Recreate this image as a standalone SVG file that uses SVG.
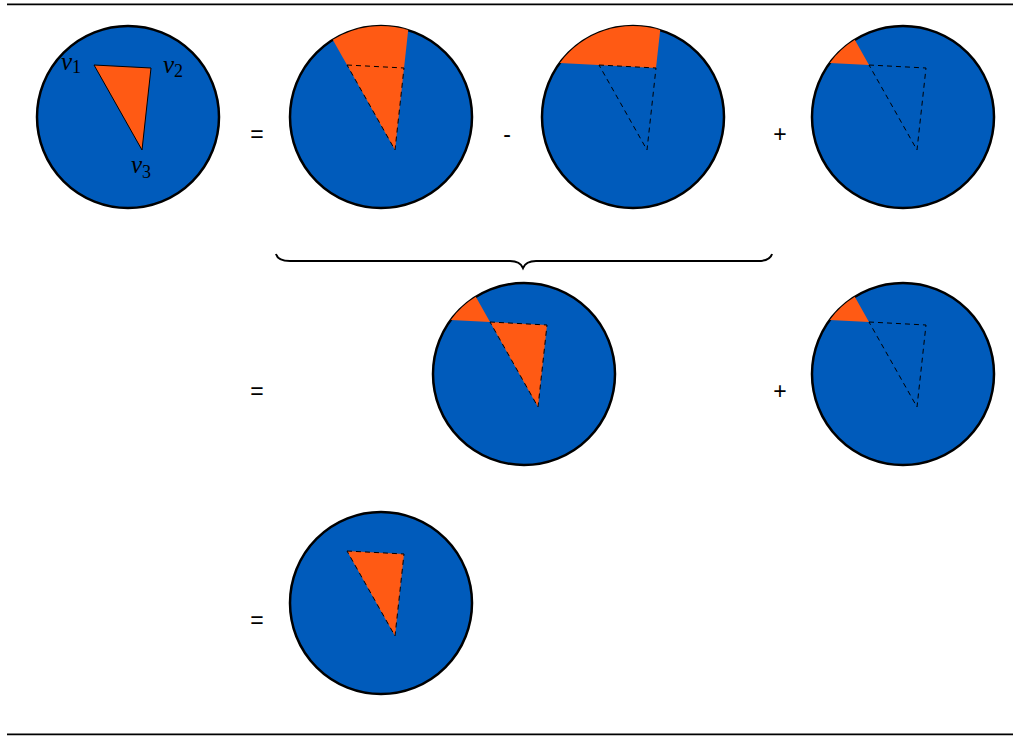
<svg xmlns="http://www.w3.org/2000/svg" width="1013" height="736" viewBox="0 0 1013 736">
<style>
.disk{fill:#005BBB;stroke:#000;stroke-width:2.5}
.or{fill:#FF5A14;stroke:none}
.dash{fill:none;stroke:#000;stroke-width:1;stroke-dasharray:5 4}
.solid{fill:#FF5A14;stroke:#000;stroke-width:1}
.rule{stroke:#000;stroke-width:1.8}
</style>
<defs>
<circle id="c" r="91" class="disk"/>
<path id="tri" d="M-34,-52 L23,-49 L14,33 Z"/>
<path id="wedgeV1" d="M-34,-52 L-48.2,-77.2 A91,91 0 0 0 -73.2,-54.1 Z"/>
</defs>
<line class="rule" x1="7" y1="4.3" x2="1013" y2="4.3"/>
<line class="rule" x1="7" y1="734.3" x2="1013" y2="734.3"/>
<g id="n1" transform="translate(128,117)">
<use href="#c"/>
<use href="#tri" class="solid"/>
<g font-family="Liberation Serif, Times New Roman, serif" font-size="25" font-style="italic" fill="#000">
<text x="-67" y="-47">v<tspan font-style="normal" font-size="18" dy="3">1</tspan></text>
<text x="35" y="-44">v<tspan font-style="normal" font-size="18" dy="4">2</tspan></text>
<text x="3" y="56">v<tspan font-style="normal" font-size="18" dy="5">3</tspan></text>
</g>
</g>
<g id="n2" transform="translate(381,117)">
<use href="#c"/>
<path class="or" d="M14,33 L-48.2,-77.2 A91,91 0 0 1 27.2,-86.9 Z"/>
<use href="#tri" class="dash"/>
</g>
<g id="n3" transform="translate(633,117)">
<use href="#c"/>
<path class="or" d="M-73.2,-54.1 L23,-49 L27.2,-86.9 A91,91 0 0 0 -73.2,-54.1 Z"/>
<use href="#tri" class="dash"/>
</g>
<g id="n4" transform="translate(903,117)">
<use href="#c"/>
<use href="#wedgeV1" class="or"/>
<use href="#tri" class="dash"/>
</g>
<g id="n5" transform="translate(524,374)">
<use href="#c"/>
<use href="#wedgeV1" class="or"/>
<use href="#tri" class="or"/>
<use href="#tri" class="dash"/>
</g>
<g id="n6" transform="translate(903,374)">
<use href="#c"/>
<use href="#wedgeV1" class="or"/>
<use href="#tri" class="dash"/>
</g>
<g id="n7" transform="translate(381,603)">
<use href="#c"/>
<use href="#tri" class="or"/>
<use href="#tri" class="dash"/>
</g>
<g id="ops" font-family="Liberation Sans, Arial, sans-serif" font-size="23" text-anchor="middle" fill="#000">
<text x="257" y="142">=</text>
<text x="507" y="142">-</text>
<text x="780" y="142">+</text>
<text x="257" y="399">=</text>
<text x="780" y="399">+</text>
<text x="257" y="628">=</text>
</g>
<g id="connectors">
<path d="M276,254 Q278,261 290,261 L510,261 Q520,261 523,268 Q526,261 536,261 L758,261 Q770,261 772,254" fill="none" stroke="#000" stroke-width="2"/>
</g>
</svg>
